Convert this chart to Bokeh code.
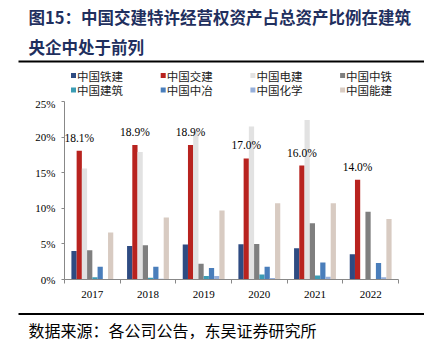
from bokeh.plotting import figure
from bokeh.models import Range1d, FixedTicker, ColumnDataSource
from bokeh.transform import dodge
from bokeh.layouts import column
from bokeh.embed import file_html
from bokeh.resources import INLINE
from bokeh.core.properties import value

years = ["2017", "2018", "2019", "2020", "2021", "2022"]
series = ["中国铁建", "中国交建", "中国电建", "中国中铁", "中国建筑", "中国中冶", "中国化学", "中国能建"]
tiejian = [4.0, 4.7, 4.9, 4.95, 4.4, 3.55]
jiaojian = [18.1, 18.9, 18.9, 17.0, 16.0, 14.0]
dianjian = [15.6, 17.9, 20.9, 21.5, 22.4, 0.0]
zhongtie = [4.1, 4.8, 2.2, 5.0, 7.9, 9.5]
jianzhu = [0.3, 0.25, 0.5, 0.7, 0.55, 0.0]
zhongye = [1.8, 1.8, 1.6, 1.8, 2.4, 2.3]
huaxue = [0.0, 0.1, 0.5, 0.2, 0.4, 0.3]
nengjian = [6.6, 8.7, 9.7, 10.7, 10.7, 8.5]
jiaojian_labels = ["18.1%", "18.9%", "18.9%", "17.0%", "16.0%", "14.0%"]
y_ticks = [0, 5, 10, 15, 20, 25]
y_tick_labels = ["0%", "5%", "10%", "15%", "20%", "25%"]
colors = ["#2E4B82", "#B8231F", "#E2E2E2", "#7F7F7F", "#3C9CB4", "#4A7EBB", "#96AFDA", "#D8CBC2"]

title_lines = ["图15：中国交建特许经营权资产占总资产比例在建筑", "央企中处于前列"]
source_text = "数据来源：各公司公告，东吴证券研究所"

CJK = value("Noto Sans CJK SC")
SERIF = value("Liberation Serif")
W = 424

# ---------- header (title + rule + legend) ----------
hdr = figure(width=W, height=97, x_range=Range1d(0, W), y_range=Range1d(97, 0),
             output_backend="svg", toolbar_location=None,
             x_axis_type=None, y_axis_type=None, min_border=0,
             outline_line_color=None)
hdr.grid.visible = False
hdr.text(x=[28, 28], y=[16, 46], text=title_lines, text_font=CJK,
         text_font_size="16.5px", text_font_style="bold", text_color="#1F2F5E",
         text_baseline="middle", text_align="left")
hdr.segment(x0=[18], y0=[61], x1=[W], y1=[61], line_width=2, line_color="black")
lx = [70.5 + (k % 4) * 89.7 for k in range(len(series))]
ly = [75 + (k // 4) * 14.5 for k in range(len(series))]
hdr.rect(x=[v + 2.5 for v in lx], y=ly, width=5, height=5, fill_color=colors,
         line_color=None)
hdr.text(x=[v + 6 for v in lx], y=ly, text=series, text_font=CJK,
         text_font_size="11.5px", text_color="#222222", text_baseline="middle")

# ---------- main chart ----------
p = figure(width=W, height=215, x_range=Range1d(0, 6), y_range=Range1d(0, 25),
           output_backend="svg", toolbar_location=None,
           min_border_left=64, min_border_right=26, min_border_top=4,
           min_border_bottom=33, outline_line_color=None)
p.grid.visible = False

src = ColumnDataSource(dict(
    x=[i + 0.5 for i in range(len(years))],
    tiejian=tiejian, jiaojian=jiaojian, dianjian=dianjian, zhongtie=zhongtie,
    jianzhu=jianzhu, zhongye=zhongye, huaxue=huaxue, nengjian=nengjian,
    lab=jiaojian_labels,
))
keys = ["tiejian", "jiaojian", "dianjian", "zhongtie", "jianzhu", "zhongye", "huaxue", "nengjian"]
bw = 0.094
for k, key in enumerate(keys):
    p.vbar(x=dodge("x", (k - 3.5) * bw, range=p.x_range), top=key, width=bw,
           source=src, fill_color=colors[k], line_color=None)

p.text(x=dodge("x", (1 - 3.5) * bw, range=p.x_range), y="jiaojian", text="lab",
       source=src, y_offset=-13, text_font=SERIF, text_font_size="11.5px",
       text_color="black", text_align="center", text_baseline="middle")

p.yaxis.ticker = FixedTicker(ticks=y_ticks)
p.yaxis.major_label_overrides = {t: l for t, l in zip(y_ticks, y_tick_labels)}
p.yaxis.major_tick_in = 0
p.yaxis.major_tick_out = 3
p.yaxis.major_label_standoff = 6

p.xaxis.ticker = FixedTicker(ticks=[i + 0.5 for i in range(len(years))],
                             minor_ticks=list(range(len(years) + 1)))
p.xaxis.major_label_overrides = {i + 0.5: y for i, y in enumerate(years)}
p.xaxis.minor_tick_in = 0
p.xaxis.minor_tick_out = 4
p.xaxis.major_label_standoff = 5

for ax in (p.xaxis, p.yaxis):
    ax.axis_line_color = "#888888"
    ax.major_tick_line_color = "#888888"
    ax.minor_tick_line_color = "#888888"
    ax.major_label_text_font = "Liberation Serif"
    ax.major_label_text_font_size = "11px"
    ax.major_label_text_color = "black"
p.xaxis.major_tick_line_color = None
p.yaxis.minor_tick_line_color = None

# ---------- footer ----------
ftr = figure(width=W, height=45, x_range=Range1d(0, W), y_range=Range1d(45, 0),
             output_backend="svg", toolbar_location=None,
             x_axis_type=None, y_axis_type=None, min_border=0,
             outline_line_color=None)
ftr.grid.visible = False
ftr.segment(x0=[18], y0=[1.5], x1=[W], y1=[1.5], line_width=2, line_color="black")
ftr.text(x=[28], y=[17], text=[source_text], text_font=CJK, text_font_size="16px",
         text_color="black", text_baseline="middle", text_align="left")

layout = column(column(hdr), column(p), column(ftr), spacing=0)
open("out.html", "w").write(file_html(layout, INLINE))
